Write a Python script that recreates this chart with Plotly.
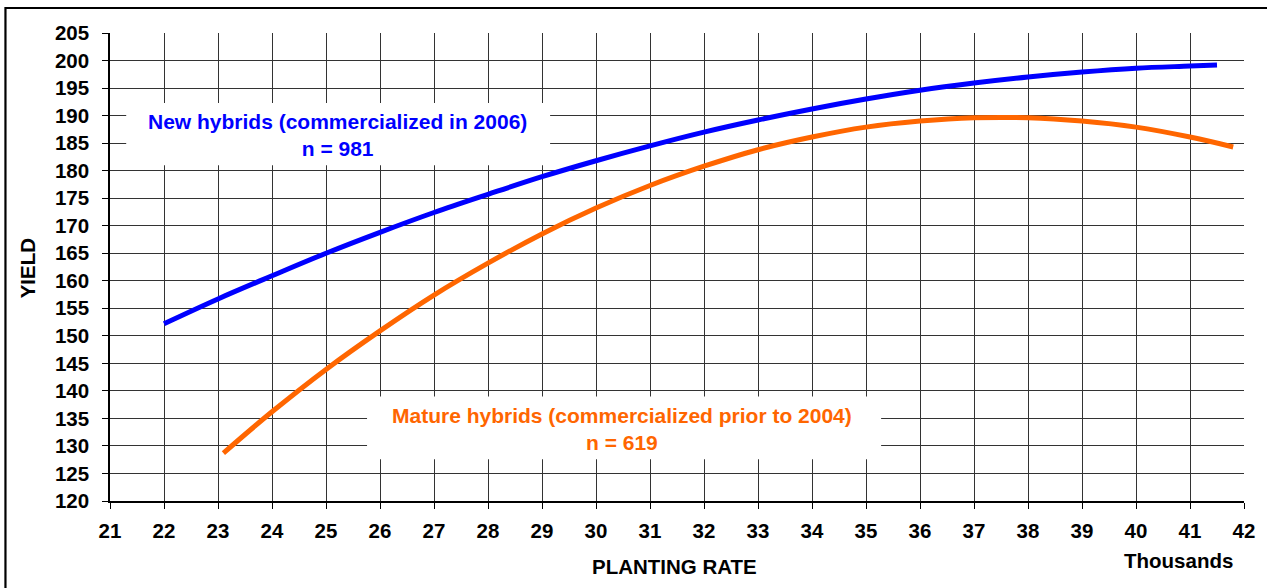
import plotly.graph_objects as go

# Data (planting rate in thousands, yield)
new_x = [22, 23, 24, 25, 26, 27, 28, 29, 30, 31, 32, 33, 34, 35, 36, 37, 38, 39, 40, 41, 41.5]
new_y = [152.2, 156.7, 160.9, 165.0, 168.8, 172.4, 175.7, 178.9, 181.8, 184.5, 187.0,
         189.2, 191.2, 193.0, 194.6, 195.9, 197.0, 197.9, 198.6, 199.0, 199.2]

mature_x = [23.1, 24, 25, 26, 27, 28, 29, 30, 31, 32, 33, 34, 35, 36, 37, 38, 39, 40, 41, 41.8]
mature_y = [128.7, 136.2, 143.9, 150.9, 157.4, 163.2, 168.5, 173.2, 177.3, 180.8, 183.8,
            186.1, 187.9, 189.0, 189.6, 189.6, 189.0, 187.9, 186.1, 184.3]

x_ticks = list(range(21, 43))
y_ticks = list(range(120, 206, 5))

new_label = "New hybrids (commercialized in 2006)<br>n = 981"
mature_label = "Mature hybrids (commercialized prior to 2004)<br>n = 619"

BLUE = "#0000FF"
ORANGE = "#FF6600"
FONT = "Liberation Sans, Arial, sans-serif"

fig = go.Figure()
fig.add_trace(go.Scatter(x=new_x, y=new_y, mode="lines",
                         line=dict(color=BLUE, width=5, shape="spline"),
                         showlegend=False, hoverinfo="skip"))
fig.add_trace(go.Scatter(x=mature_x, y=mature_y, mode="lines",
                         line=dict(color=ORANGE, width=5, shape="spline"),
                         showlegend=False, hoverinfo="skip"))

W, H = 1267, 588
L, R, T, B = 110, 18, 33, 87
pw, ph = W - L - R, H - T - B


def px(xp):
    return (xp - L) / pw


def py(yp):
    return (H - B - yp) / ph


shapes = [
    # white boxes behind the labels (above gridlines, below traces)
    dict(type="rect", xref="x", yref="y", x0=21.3, x1=29.15, y0=181.0, y1=192.3,
         fillcolor="white", line=dict(width=0), layer="between"),
    dict(type="rect", xref="x", yref="y", x0=25.76, x1=35.28, y0=127.6, y1=139.0,
         fillcolor="white", line=dict(width=0), layer="between"),
    # outer frame (left and top edges visible)
    dict(type="path", xref="paper", yref="paper",
         path=f"M {px(5)} {py(600)} L {px(5)} {py(8)} L {px(1275)} {py(8)}",
         line=dict(color="black", width=2.2), layer="above"),
]

bold = dict(family=FONT, size=20.5, color="black", weight="bold")
annotations = [
    dict(x=25.22, y=186.5, xref="x", yref="y", text=new_label, showarrow=False,
         xanchor="center", yanchor="middle",
         font=dict(family=FONT, size=21, color=BLUE, weight="bold"), align="center"),
    dict(x=30.49, y=133.0, xref="x", yref="y", text=mature_label, showarrow=False,
         xanchor="center", yanchor="middle",
         font=dict(family=FONT, size=21, color=ORANGE, weight="bold"), align="center"),
    dict(x=px(27), y=py(268), xref="paper", yref="paper", text="YIELD", textangle=-90,
         xanchor="center", yanchor="middle", showarrow=False, font=bold),
    dict(x=px(677), y=py(566), xref="paper", yref="paper", text="PLANTING RATE",
         xanchor="center", yanchor="middle", showarrow=False, font=bold),
    dict(x=px(1183), y=py(560), xref="paper", yref="paper", text="Thousands",
         xanchor="center", yanchor="middle", showarrow=False, font=bold),
]

fig.update_layout(
    width=W, height=H,
    margin=dict(l=L, r=R, t=T, b=B, pad=0),
    paper_bgcolor="white", plot_bgcolor="white",
    shapes=shapes, annotations=annotations,
    font=dict(family=FONT, size=20, color="black"),
)

axis_common = dict(
    showgrid=True, gridcolor="#333333", gridwidth=1,
    showline=True, linecolor="black", linewidth=1.5, mirror=False,
    ticks="outside", ticklen=6, tickcolor="black", tickwidth=1.2,
    tickfont=bold,
    zeroline=False, fixedrange=True,
)

fig.update_xaxes(range=[21, 42], tickmode="array", tickvals=x_ticks,
                 ticktext=[str(v) for v in x_ticks], ticklabelstandoff=5, **axis_common)
fig.update_yaxes(range=[120, 205], tickmode="array", tickvals=y_ticks,
                 ticktext=[str(v) for v in y_ticks], ticklabelstandoff=9, **axis_common)

fig.write_html("out.html", config={"displayModeBar": False},
               post_script="document.body.style.margin='0';document.body.style.overflow='hidden';")
